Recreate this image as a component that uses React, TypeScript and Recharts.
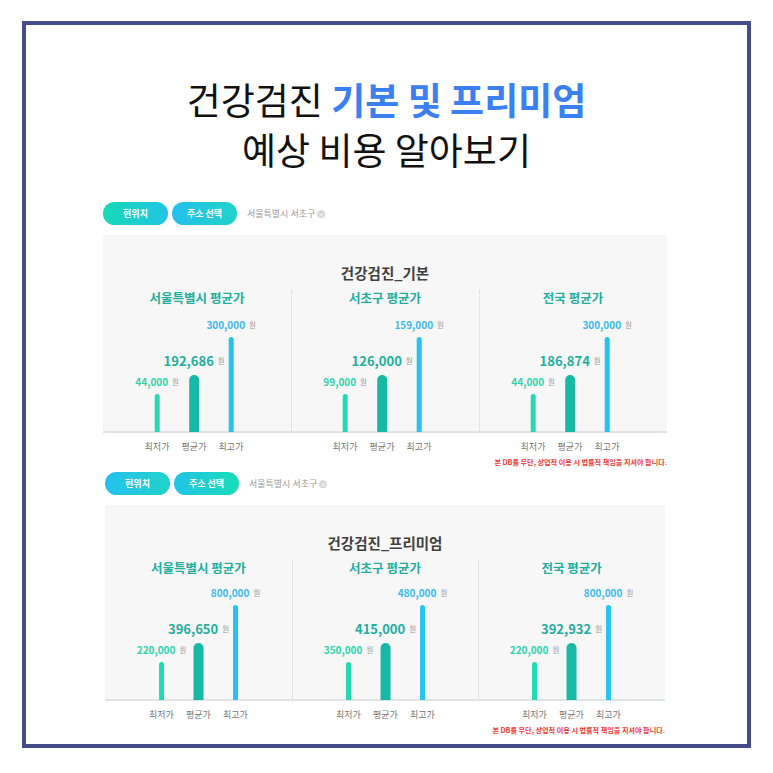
import React from 'react';
import { BarChart, Bar, XAxis, YAxis } from 'recharts';

const categories = ['최저가', '평균가', '최고가'];
const barLevels = [2, 3, 5];
const regionTitles = ['서울특별시 평균가', '서초구 평균가', '전국 평균가'];
const basicSeoul = [44000, 192686, 300000];
const basicSeocho = [99000, 126000, 159000];
const basicNational = [44000, 186874, 300000];
const premiumSeoul = [220000, 396650, 800000];
const premiumSeocho = [350000, 415000, 480000];
const premiumNational = [220000, 392932, 800000];

const FONT = "'Noto Sans CJK KR', 'Noto Sans', sans-serif";

const barStyles = [
  { w: 5, r: 2.5, color: '#22dbb5', label: '#2bd5b0', fs: 10, gap: 13 },
  { w: 10, r: 5, color: '#17b9a6', label: '#1fae9e', fs: 13, gap: 15 },
  { w: 5, r: 2.5, color: '#27c3f0', label: '#3bbaef', fs: 10, gap: 13 },
];

const BarShape = (props: any) => {
  const { x, y, width, height, payload } = props;
  const i = categories.indexOf(payload.cat);
  const st = barStyles[i];
  const cx = x + width / 2;
  const w = st.w;
  const r = Math.min(w / 2, st.r);
  const left = cx - w / 2;
  const right = cx + w / 2;
  const bottom = y + height;
  const d = `M${left},${bottom} L${left},${y + r} A${r},${r} 0 0 1 ${left + r},${y} L${right - r},${y} A${r},${r} 0 0 1 ${right},${y + r} L${right},${bottom} Z`;
  return (
    <g>
      <path d={d} fill={st.color} />
      <text x={cx} y={y - st.gap} textAnchor="middle" dominantBaseline="central" fontFamily={FONT}>
        <tspan fontSize={st.fs} fontWeight={700} fill={st.label}>
          {payload.price.toLocaleString('en-US')}
        </tspan>
        <tspan fontSize={7.5} fill="#999" dx={4}>원</tspan>
      </text>
    </g>
  );
};

const Txt = ({ x, y, size, color, weight = 400, children, anchor = 'center' }: any) => (
  <div
    style={{
      position: 'absolute',
      left: x,
      top: y,
      transform: anchor === 'center' ? 'translate(-50%, -50%)' : anchor === 'right' ? 'translate(-100%, -50%)' : 'translate(0, -50%)',
      fontSize: size,
      lineHeight: 1,
      color,
      fontWeight: weight,
      whiteSpace: 'nowrap',
      fontFamily: FONT,
    }}
  >
    {children}
  </div>
);

const Column = ({ values, left, top, colW, offset }: any) => {
  const band = 37;
  const plotW = band * 3;
  const ml = colW / 2 + offset - plotW / 2;
  const mr = colW - ml - plotW;
  const data = categories.map((c, i) => ({ cat: c, level: barLevels[i], price: values[i] }));
  return (
    <div style={{ position: 'absolute', left, top }}>
      <BarChart width={colW} height={168} data={data} margin={{ top: 5, right: mr, bottom: 0, left: ml }}>
        <XAxis
          dataKey="cat"
          axisLine={false}
          tickLine={false}
          height={30}
          tickMargin={6}
          interval={0}
          tick={{ fontSize: 9, fill: '#777', fontFamily: FONT }}
        />
        <YAxis hide domain={[0, 7]} />
        <Bar dataKey="level" shape={BarShape} isAnimationActive={false} />
      </BarChart>
    </div>
  );
};

const Section = ({ btnTop, panel, title, cols, offset, grads }: any) => {
  const { left, top, width, height } = panel;
  const colW = width / 3;
  const baseline = top + height;
  const subY = top + 63;
  return (
    <>
      <div
        style={{
          position: 'absolute', left: left, top: btnTop, width: 65, height: 23, borderRadius: 12,
          background: grads[0], color: '#fff', fontSize: 9, fontWeight: 700, fontFamily: FONT,
          display: 'flex', alignItems: 'center', justifyContent: 'center',
        }}
      >현위치</div>
      <div
        style={{
          position: 'absolute', left: left + 69, top: btnTop, width: 65, height: 23, borderRadius: 12,
          background: grads[1], color: '#fff', fontSize: 9, fontWeight: 700, fontFamily: FONT,
          display: 'flex', alignItems: 'center', justifyContent: 'center',
        }}
      >주소 선택</div>
      <Txt x={left + 144} y={btnTop + 11.5} size={9} color="#9a9a9a" anchor="left">
        서울특별시 서초구{' '}
        <span style={{ display: 'inline-block', width: 8, height: 8, borderRadius: 4, background: '#d6d6d6', color: '#fff', fontSize: 7, lineHeight: '8px', textAlign: 'center', verticalAlign: 'middle' }}>×</span>
      </Txt>
      <div style={{ position: 'absolute', left, top, width, height, background: '#f7f7f7', borderBottom: '2px solid #dfe2e6', boxSizing: 'border-box' }} />
      <div style={{ position: 'absolute', left: left + colW, top: subY - 8, height: baseline - subY + 6, borderLeft: '1px dotted #cfcfcf' }} />
      <div style={{ position: 'absolute', left: left + 2 * colW, top: subY - 8, height: baseline - subY + 6, borderLeft: '1px dotted #cfcfcf' }} />
      <Txt x={left + width / 2} y={top + 38} size={14.5} color="#3f3f3f" weight={700}>{title}</Txt>
      {cols.map((vals: number[], i: number) => (
        <React.Fragment key={i}>
          <Txt x={left + colW * i + colW / 2} y={subY} size={12.5} color="#22ae9c" weight={700}>{regionTitles[i]}</Txt>
          <Column values={vals} left={left + colW * i} top={baseline - 139} colW={colW} offset={offset} />
        </React.Fragment>
      ))}
      <Txt x={left + width} y={baseline + 30} size={7.1} color="#f03a3a" weight={700} anchor="right">
        본 DB를 무단, 상업적 이용 시 법률적 책임을 지셔야 합니다.
      </Txt>
    </>
  );
};

export default function App() {
  return (
    <div style={{ position: 'absolute', left: 0, top: 0, width: 773, height: 773, background: '#fff', fontFamily: FONT, overflow: 'hidden' }}>
      <div style={{ position: 'absolute', left: 22, top: 21, width: 729, height: 727, border: '4px solid #454c8c', boxSizing: 'border-box' }} />
      <div style={{ position: 'absolute', left: 0, top: 80, width: 773, textAlign: 'center', lineHeight: '38px', fontSize: 37 }}>
        <span style={{ display: 'inline-block', color: '#111', fontWeight: 400 }}>
          건강검진 <span style={{ color: '#3b80f0', fontWeight: 700 }}>기본 및 프리미엄</span>
        </span>
      </div>
      <div style={{ position: 'absolute', left: 0, top: 130, width: 773, textAlign: 'center', lineHeight: '38px', fontSize: 37 }}>
        <span style={{ display: 'inline-block', color: '#111', fontWeight: 400 }}>
          예상 비용 알아보기
        </span>
      </div>
      <Section
        btnTop={202}
        panel={{ left: 103, top: 235, width: 564, height: 198 }}
        title="건강검진_기본"
        cols={[basicSeoul, basicSeocho, basicNational]}
        offset={-3}
        grads={['linear-gradient(90deg, #17d8b6, #21c6e6)', 'linear-gradient(90deg, #25c0ee, #1fd3c8)']}
      />
      <Section
        btnTop={472}
        panel={{ left: 105, top: 505, width: 560, height: 196 }}
        title="건강검진_프리미엄"
        cols={[premiumSeoul, premiumSeocho, premiumNational]}
        offset={0}
        grads={['linear-gradient(90deg, #25c0ee, #1fd3c8)', 'linear-gradient(90deg, #22c4e8, #19dcb6)']}
      />
    </div>
  );
}
